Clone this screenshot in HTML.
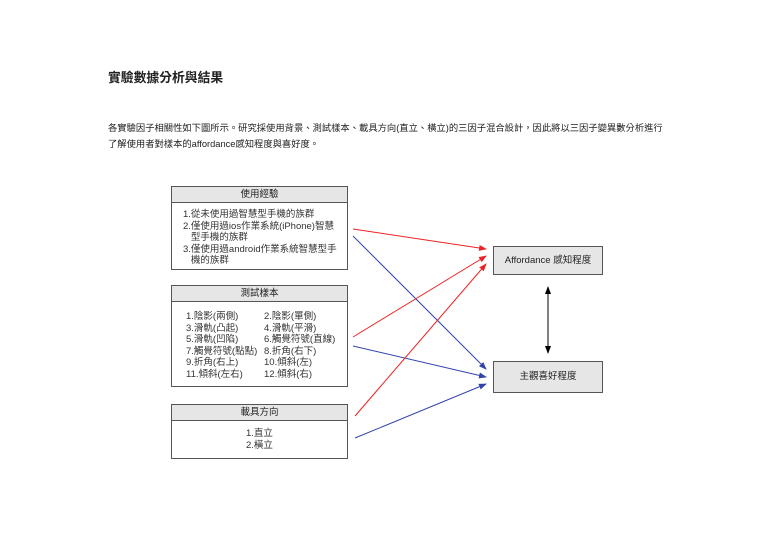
<!DOCTYPE html>
<html><head><meta charset="utf-8"><style>
body{margin:0;width:768px;height:543px;background:#fff;position:relative;font-family:"Liberation Sans","Noto Sans CJK TC",sans-serif;color:#222;overflow:hidden}
.a{position:absolute;white-space:nowrap}
.box{position:absolute;border:1px solid #555;background:#fff;box-sizing:border-box}
.hd{background:#e6e6e6;border-bottom:1px solid #555;text-align:center;font-size:9.5px;box-sizing:border-box}
.out{position:absolute;border:1px solid #555;background:#e6e6e6;box-sizing:border-box;font-size:9.5px;text-align:center}
.t{font-size:9.5px;line-height:11.5px;color:#333}
</style></head><body>
<div class="a" style="left:108px;top:67px;font-size:12.8px;font-weight:bold">實驗數據分析與結果</div>
<div class="a" style="left:108px;top:120px;font-size:9.3px">各實驗因子相關性如下圖所示。研究採使用背景、測試樣本、載具方向(直立、橫立)的三因子混合設計，因此將以三因子變異數分析進行</div>
<div class="a" style="left:108px;top:136px;font-size:9.3px">了解使用者對樣本的affordance感知程度與喜好度。</div>

<div class="box" style="left:171px;top:186px;width:177px;height:84px">
<div class="hd" style="height:16px;line-height:15px">使用經驗</div>
<div class="t" style="position:absolute;left:11px;top:22px">1.從未使用過智慧型手機的族群<br>2.僅使用過ios作業系統(iPhone)智慧<br>&nbsp;&nbsp;&nbsp;型手機的族群<br>3.僅使用過android作業系統智慧型手<br>&nbsp;&nbsp;&nbsp;機的族群</div>
</div>
<div class="box" style="left:171px;top:285px;width:177px;height:102px">
<div class="hd" style="height:16px;line-height:15px">測試樣本</div>
<div class="t" style="position:absolute;left:14px;top:25px">1.陰影(兩側)<br>3.滑軌(凸起)<br>5.滑軌(凹陷)<br>7.觸覺符號(點點)<br>9.折角(右上)<br>11.傾斜(左右)</div>
<div class="t" style="position:absolute;left:92px;top:25px">2.陰影(單側)<br>4.滑軌(平滑)<br>6.觸覺符號(直線)<br>8.折角(右下)<br>10.傾斜(左)<br>12.傾斜(右)</div>
</div>
<div class="box" style="left:171px;top:404px;width:177px;height:55px">
<div class="hd" style="height:16px;line-height:15px">載具方向</div>
<div class="t" style="position:absolute;left:74px;top:23px">1.直立<br>2.橫立</div>
</div>
<div class="out" style="left:493px;top:246px;width:110px;height:29px;line-height:27px">Affordance 感知程度</div>
<div class="out" style="left:493px;top:361px;width:110px;height:32px;line-height:30px">主觀喜好程度</div>

<svg width="768" height="543" style="position:absolute;left:0;top:0">
<defs>
<marker id="r" markerWidth="8" markerHeight="6" refX="7" refY="3" orient="auto" markerUnits="userSpaceOnUse"><path d="M0,0L8,3L0,6z" fill="#e22"/></marker>
<marker id="b" markerWidth="8" markerHeight="6" refX="7" refY="3" orient="auto" markerUnits="userSpaceOnUse"><path d="M0,0L8,3L0,6z" fill="#34a"/></marker>
<marker id="k" markerWidth="8" markerHeight="6" refX="7" refY="3" orient="auto-start-reverse" markerUnits="userSpaceOnUse"><path d="M0,0L8,3L0,6z" fill="#000"/></marker>
</defs>
<g stroke-width="1" fill="none">
<line x1="353" y1="229" x2="486" y2="249" stroke="#e22" marker-end="url(#r)"/>
<line x1="353" y1="236" x2="486" y2="369" stroke="#34a" marker-end="url(#b)"/>
<line x1="353" y1="337" x2="486" y2="256" stroke="#e22" marker-end="url(#r)"/>
<line x1="353" y1="346" x2="486" y2="377" stroke="#34a" marker-end="url(#b)"/>
<line x1="355" y1="416" x2="486" y2="264" stroke="#e22" marker-end="url(#r)"/>
<line x1="355" y1="438" x2="486" y2="384" stroke="#34a" marker-end="url(#b)"/>
<line x1="548" y1="287" x2="548" y2="353" stroke="#000" marker-start="url(#k)" marker-end="url(#k)"/>
</g>
</svg>
</body></html>
